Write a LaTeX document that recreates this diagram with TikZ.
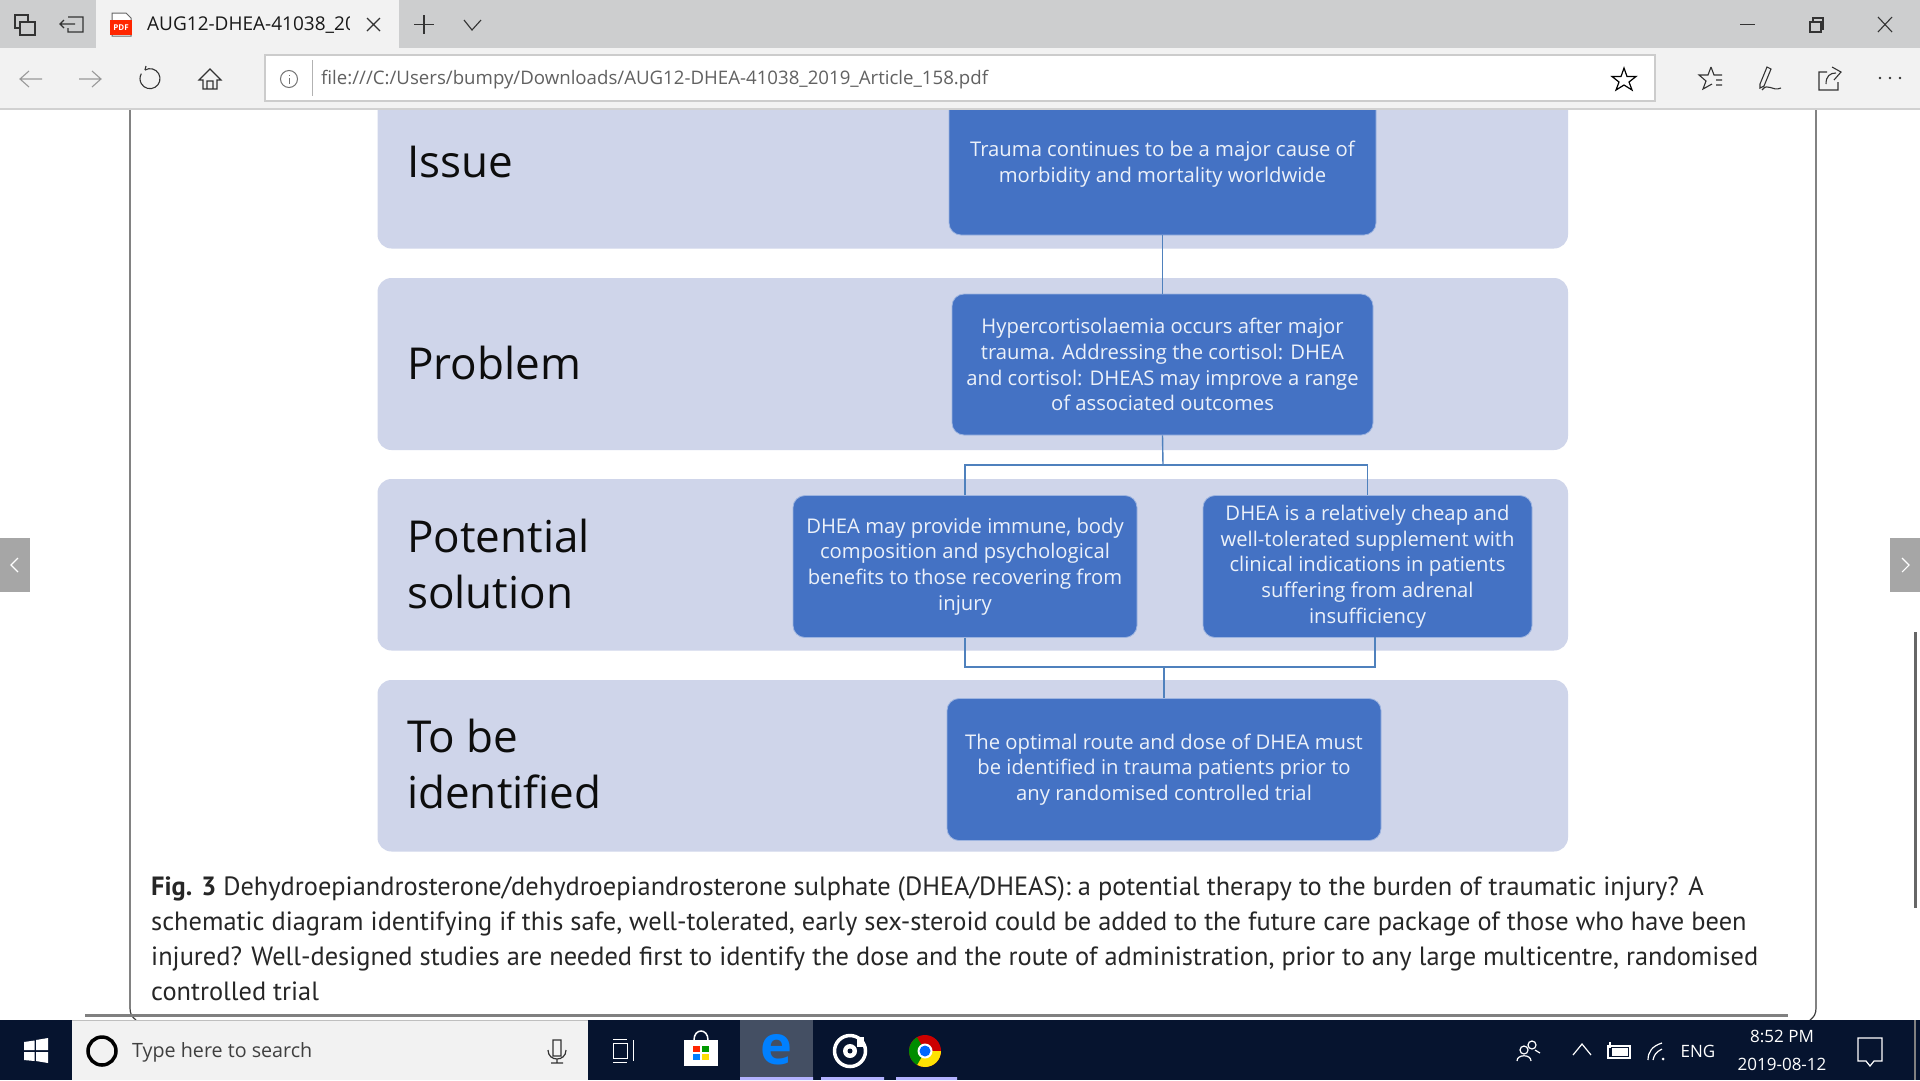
\documentclass[tikz,border=0pt]{standalone}
\usepackage{fontspec}
\setmainfont{Open Sans}
\newfontfamily\capfont{PT Sans}
\usetikzlibrary{calc}
\definecolor{bandc}{HTML}{CFD5EA}
\definecolor{boxc}{HTML}{4472C4}
\definecolor{boxedge}{HTML}{9DB4E0}
\definecolor{linec}{HTML}{4F81BD}
\definecolor{chromec}{HTML}{F2F2F2}
\definecolor{titlec}{HTML}{CDCECF}
\definecolor{barc}{HTML}{06142F}
\definecolor{icong}{HTML}{333333}
\tikzset{
 band/.style={fill=bandc,rounded corners=14pt,draw=none},
 flow/.style={fill=boxc,draw=boxedge,line width=.8pt,rounded corners=12pt,text=white!90!boxc,align=center,font=\fontsize{20.25}{25.7}\selectfont,inner sep=0pt},
 lab/.style={anchor=west,align=left,font=\fontsize{44}{56}\selectfont,text=black!95,inner sep=0pt},
 link/.style={draw=linec,line width=1.4pt},
 capline/.style={anchor=base west,inner sep=0pt,font=\capfont\fontsize{26.4}{30}\selectfont,text=black!85},
 ui/.style={draw=icong,line width=1.1pt},
 uig/.style={draw=black!40,line width=1.1pt},
 uiw/.style={draw=white,line width=1.2pt},
 bartext/.style={text=white,font=\fontsize{17}{20}\selectfont,inner sep=0pt},
}
\begin{document}
\begin{tikzpicture}[x=1pt,y=-1pt]
\useasboundingbox (0,0) rectangle (1920,1080);
\fill[white] (0,0) rectangle (1920,1080);
% page edges
\draw[black!75,line width=1.2pt] (130,100) -- (130,1008) .. controls (130,1014) and (132,1017) .. (136,1020);
\draw[black!75,line width=1.2pt] (1816,100) -- (1816,1008) .. controls (1816,1014) and (1814,1017) .. (1810,1020);
% bands
\fill[band] (377.5,70) rectangle (1568,248.5);
\fill[band] (377.5,278) rectangle (1568,450);
\fill[band] (377.5,479) rectangle (1568,650.5);
\fill[band] (377.5,680) rectangle (1568,851.5);
% labels
\node[lab] (l1) at (407,162) {Issue};
\node[lab] (l2) at (407,363) {Problem};
\node[lab] (l3) at (407,564) {Potential\\solution};
\node[lab] (l4) at (407,764) {To be\\identified};
% boxes
\node[flow,minimum width=427,minimum height=175] (b1) at (1162.5,147.5) {};
\node[flow,minimum width=421,minimum height=141] (b2) at (1162.5,364.5) {Hypercortisolaemia occurs after major\\trauma. Addressing the cortisol: DHEA\\and cortisol: DHEAS may improve a range\\of associated outcomes};
\node[flow,minimum width=344,minimum height=142] (b3) at (965,566.5) {DHEA may provide immune, body\\composition and psychological\\benefits to those recovering from\\injury};
\node[flow,minimum width=329,minimum height=142] (b4) at (1367.5,566.5) {DHEA is a relatively cheap and\\well-tolerated supplement with\\clinical indications in patients\\suffering from adrenal\\insufficiency};
\node[flow,minimum width=434,minimum height=142] (b5) at (1164,769.5) {The optimal route and dose of DHEA must\\be identified in trauma patients prior to\\any randomised controlled trial};
\node[text=white!90!boxc,align=center,font=\fontsize{20.25}{25.7}\selectfont,inner sep=0pt] (b1t) at (1162.5,164) {Trauma continues to be a major cause of\\morbidity and mortality worldwide};
% connectors
\coordinate (j1) at (1163,465);
\coordinate (j2) at (1164,667);
\coordinate (b4s) at (1375,637);
\draw[link] (b1.south) -- (b2.north);
\draw[link] (b2.south) -- (j1);
\draw[link] (b3.north) |- (j1) -| (b4.north);
\draw[link] (b3.south) |- (j2) -| (b4s);
\draw[link] (j2) -- (b5.north);
% caption
\node[capline] (c1) at (151,895) {\textbf{Fig. 3} Dehydroepiandrosterone/dehydroepiandrosterone sulphate (DHEA/DHEAS): a potential therapy to the burden of traumatic injury? A};
\node[capline] (c2) at (151,930) {schematic diagram identifying if this safe, well-tolerated, early sex-steroid could be added to the future care package of those who have been};
\node[capline] (c3) at (151,965) {injured? Well-designed studies are needed first to identify the dose and the route of administration, prior to any large multicentre, randomised};
\node[capline] (c4) at (151,1000) {controlled trial};
\fill[black!50] (85,1014) rectangle (1788,1017);
% title bar
\fill[titlec] (0,0) rectangle (1920,48);
\fill[chromec] (96,0) rectangle (399,48);
\fill[chromec] (0,48) rectangle (1920,108);
\fill[black!18] (0,108) rectangle (1920,110);
\fill[white,draw=black!20,line width=1.5pt] (265,55) rectangle (1655,101);
\draw[black!30] (312,60) -- (312,96);
% tab & url text
\begin{scope}
\clip (140,5) rectangle (349,44);
\node[anchor=west,inner sep=0pt,text=black!90,font=\fontsize{19}{22}\selectfont] (tabt) at (147,25) {AUG12-DHEA-41038\_2019};
\end{scope}
\node[anchor=west,inner sep=0pt,text=black!62,font=\fontsize{18.65}{22}\selectfont] (url) at (321,80) {file:///C:/Users/bumpy/Downloads/AUG12-DHEA-41038\_2019\_Article\_158.pdf};
% tab icons
\draw[ui] (15,15) rectangle (28,28);
\draw[ui,fill=titlec] (20,22) rectangle (35,35);
\draw[ui] (68,17) -- (83,17) -- (83,32) -- (68,32) -- (68,28) (60,24) -- (75,24) (64,20) -- (60,24) -- (64,28);
\draw[black!60,line width=1pt,fill=white] (112,13) -- (126,13) -- (131,18) -- (131,36) -- (112,36) -- cycle;
\fill[red!70!orange] (110,20) rectangle (132,35);
\node[text=white,inner sep=0pt,font=\fontsize{8}{9}\bfseries\selectfont] (pdfi) at (121,27.5) {PDF};
\draw[ui] (367,18) -- (380,31) (380,18) -- (367,31);
\draw[ui] (424,15) -- (424,34) (414,24.5) -- (434,24.5);
\draw[ui] (464,20) -- (472,30) -- (481,20);
% toolbar icons
\draw[uig] (20,79) -- (42,79) (29,71) -- (20,79) -- (29,87);
\draw[uig] (79,79) -- (101,79) (92,71) -- (101,79) -- (92,87);
\draw[ui] (145,70) arc[start angle=-120,end angle=210,radius=10] ;
\draw[ui] (145,70) -- (146,66);
\draw[ui] (210,69) -- (199,80) -- (203,80) -- (203,89) -- (217,89) -- (217,80) -- (221,80) -- cycle (207,89) -- (207,81) -- (213,81) -- (213,89);
\draw[black!55,line width=1pt] (289,79) circle (8.5);
\draw[black!55,line width=1pt] (289,75) -- (289,76) (289,78) -- (289,84);
\draw[black,line width=1.2pt] (1624,68) -- (1627,76.5) -- (1636,76.5) -- (1629,82) -- (1632,90) -- (1624,85) -- (1616,90) -- (1619,82) -- (1612,76.5) -- (1621,76.5) -- cycle;
\draw[ui] (1711,67) -- (1714,75) -- (1722,75) (1716,80) -- (1722,80) (1716,85) -- (1722,85) (1711,67) -- (1708,75) -- (1699,75) -- (1706,81) -- (1703,89) -- (1712,84);
\draw[ui] (1760,84) -- (1767,67) -- (1771,69) -- (1764,86) -- (1760,88) -- cycle (1762,90) .. controls (1768,82) and (1772,92) .. (1781,88);
\draw[ui] (1827,72) -- (1819,72) -- (1819,90) -- (1838,90) -- (1838,82) (1826,84) .. controls (1826,76) and (1830,73) .. (1836,73) (1832,67) -- (1841,72) -- (1834,80);
\fill[icong] (1880,78) circle (1.3) (1890,78) circle (1.3) (1900,78) circle (1.3);
% window buttons
\draw[ui] (1740,24.5) -- (1755,24.5);
\draw[ui] (1810,22) rectangle (1821,32) (1813,22) -- (1813,18) -- (1823,18) -- (1823,29) -- (1821,29);
\draw[ui] (1878,17) -- (1892,32) (1892,17) -- (1878,32);
% side arrows, scrollbar
\fill[black!35] (0,538) rectangle (30,592);
\fill[black!35] (1890,538) rectangle (1920,592);
\draw[white,line width=1.1pt] (18,558) -- (11,565) -- (18,572);
\draw[white,line width=1.1pt] (1902,558) -- (1909,565) -- (1902,572);
\fill[black!60] (1914,632) rectangle (1917,908);
% taskbar
\fill[barc] (0,1020) rectangle (1920,1080);
\fill[chromec] (72,1020) rectangle (588,1080);
\fill[black!25] (72,1020) rectangle (588,1021);
\fill[white] (24,1042) -- (34.5,1040.5) -- (34.5,1050) -- (24,1050) -- cycle (36,1040) -- (48,1038) -- (48,1050) -- (36,1050) -- cycle (24,1052) -- (34.5,1052) -- (34.5,1061) -- (24,1060) -- cycle (36,1052) -- (48,1052) -- (48,1063) -- (36,1061) -- cycle;
\draw[black,line width=3.5pt] (102,1051) circle (14);
\node[anchor=west,inner sep=0pt,text=black!75,font=\fontsize{19.7}{24}\selectfont] (srch) at (132,1052) {Type here to search};
\draw[icong,line width=1.2pt] (553,1040) rectangle (561,1056) (548,1050) .. controls (548,1062) and (566,1062) .. (566,1050) (557,1059) -- (557,1063) (551,1063) -- (563,1063);
\draw[uiw,line width=1pt] (613,1039) -- (627,1039) (613,1043) -- (627,1043) (613,1043) -- (613,1058) -- (627,1058) -- (627,1043) (613,1062) -- (627,1062) (633,1040) -- (633,1061);
\fill[white] (684,1040) rectangle (718,1066);
\draw[white,line width=1.5pt] (694,1040) .. controls (694,1028) and (708,1028) .. (708,1040);
\fill[red!70!orange] (693,1046) rectangle (700,1052);
\fill[green!60!black] (702,1046) rectangle (709,1052);
\fill[blue!50!cyan] (693,1054) rectangle (700,1060);
\fill[yellow!80!orange] (702,1054) rectangle (709,1060);
\fill[barc!75!white] (740,1020) rectangle (813,1080);
\node[text=blue!50!cyan,inner sep=0pt,font=\fontsize{54}{54}\bfseries\selectfont] (edg) at (776,1050) {e};
\draw[white,line width=3.5pt] (850,1051) circle (15.5);
\fill[white] (850,1051) circle (7);
\fill[barc] (850,1051) circle (2.5);
\fill[white] (857,1037) rectangle (864,1047);
\fill[red!80!black] (925,1051) circle (16);
\fill[yellow!85!orange] (925,1051) -- (941,1051) arc[start angle=0,end angle=120,radius=16] -- cycle;
\fill[green!55!black] (925,1051) -- (917,1065) arc[start angle=120,end angle=240,radius=16] -- cycle;
\fill[white] (925,1051) circle (7.5);
\fill[blue!60!cyan] (925,1051) circle (5.5);
\fill[blue!30!white] (740,1077) rectangle (813,1080) (821,1077) rectangle (884,1080) (896,1077) rectangle (957,1080);
\draw[uiw] (1524,1050) circle (4) (1517,1061) .. controls (1517,1054) and (1531,1054) .. (1531,1061) (1532,1045) circle (4) (1535,1050) -- (1540,1053);
\draw[uiw] (1573,1055) -- (1582,1044) -- (1591,1055);
\draw[uiw] (1608,1046) rectangle (1630,1058);
\fill[white] (1612,1048) rectangle (1628,1056);
\draw[uiw] (1610,1042) -- (1610,1048);
\draw[uiw] (1648,1060) .. controls (1648,1052) and (1652,1046) .. (1662,1043) (1653,1060) .. controls (1654,1055) and (1656,1052) .. (1662,1049);
\fill[white] (1663,1059) circle (1.5);
\node[bartext] (eng) at (1698,1051) {ENG};
\node[bartext] (tm) at (1782,1036) {8:52 PM};
\node[bartext] (dt) at (1782,1064) {2019-08-12};
\draw[uiw] (1858,1038) -- (1858,1061) -- (1866,1061) -- (1870,1066) -- (1874,1061) -- (1882,1061) -- (1882,1038) -- cycle;
\fill[black!50] (1914,1020) rectangle (1916,1080);
\end{tikzpicture}
\end{document}
